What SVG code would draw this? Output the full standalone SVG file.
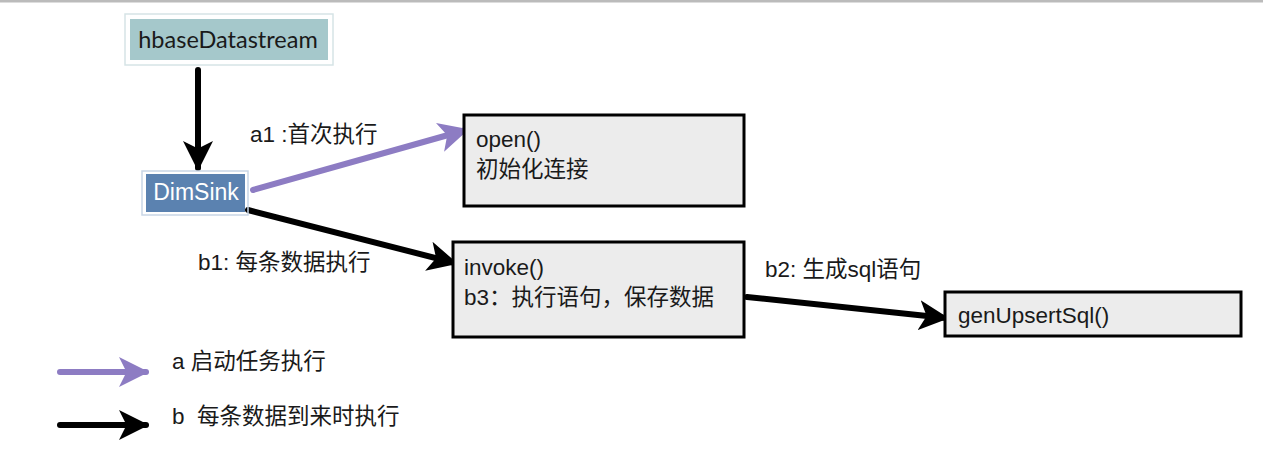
<svg xmlns="http://www.w3.org/2000/svg" width="1263" height="449" viewBox="0 0 1263 449">
<defs>
<style>
.lbl{font-family:"Liberation Sans","Noto Sans CJK SC",sans-serif;font-size:22.5px;fill:#1a1a1a}
.box{fill:#ececec;stroke:#000;stroke-width:3}
.blk{stroke:#000;stroke-width:6;stroke-linecap:round;fill:none}
.pur{stroke:#8d7cc3;stroke-width:6;stroke-linecap:round;fill:none}
</style>
<marker id="hb" viewBox="0 0 10 10" refX="9" refY="5" markerWidth="5" markerHeight="5" orient="auto" markerUnits="strokeWidth"><path d="M0,0 L10,5 L0,10 L2.5,5 Z" fill="#000"/></marker>
<marker id="hp" viewBox="0 0 10 10" refX="9" refY="5" markerWidth="5" markerHeight="5" orient="auto" markerUnits="strokeWidth"><path d="M0,0 L10,5 L0,10 L2.5,5 Z" fill="#8d7cc3"/></marker>
</defs>
<rect x="0" y="0" width="1263" height="449" fill="#fff"/>
<rect x="0" y="0" width="1263" height="2.5" fill="#bbbbbb"/>
<g id="connectors">
<line class="blk" x1="198" y1="70" x2="198" y2="168" marker-end="url(#hb)"/>
<line class="pur" x1="253" y1="190" x2="466" y2="130" marker-end="url(#hp)"/>
<line class="blk" x1="248" y1="210" x2="455" y2="263" marker-end="url(#hb)"/>
<line class="blk" x1="747" y1="297" x2="946" y2="318" marker-end="url(#hb)"/>
<text class="lbl" x="250" y="142">a1 :首次执行</text>
<text class="lbl" x="198" y="270">b1: 每条数据执行</text>
<text class="lbl" x="765" y="277">b2: 生成sql语句</text>
</g>
<g id="hbaseDatastream">
<rect x="125" y="14" width="208" height="51" fill="none" stroke="#d6e4e6" stroke-width="1.5"/>
<rect x="130" y="19" width="198" height="41" fill="#a5c8cb"/>
<text x="228" y="48" text-anchor="middle" font-family="Lato,'DejaVu Sans',sans-serif" font-size="23.5" fill="#1a1a1a">hbaseDatastream</text>
</g>
<g id="DimSink">
<rect x="142" y="171" width="106" height="44" fill="none" stroke="#c9d6e6" stroke-width="1.5"/>
<rect x="146" y="174" width="99" height="38" fill="#5b82b0"/>
<text x="196" y="200" text-anchor="middle" font-family="'Liberation Sans',sans-serif" font-size="23" fill="#fff">DimSink</text>
</g>
<g id="open">
<rect class="box" x="464" y="115" width="280" height="91"/>
<text class="lbl" x="476" y="147">open()</text>
<text class="lbl" x="476" y="177">初始化连接</text>
</g>
<g id="invoke">
<rect class="box" x="453" y="242" width="291" height="95"/>
<text class="lbl" x="464" y="275">invoke()</text>
<text class="lbl" x="464" y="305">b3：执行语句，保存数据</text>
</g>
<g id="genUpsertSql">
<rect class="box" x="945" y="292" width="296" height="44"/>
<text class="lbl" x="958" y="323">genUpsertSql()</text>
</g>
<g id="legend">
<line class="pur" x1="60" y1="372" x2="146" y2="372" marker-end="url(#hp)"/>
<line class="blk" x1="60" y1="425" x2="146" y2="425" marker-end="url(#hb)"/>
<text class="lbl" x="172" y="369">a 启动任务执行</text>
<text class="lbl" x="172" y="424" xml:space="preserve">b  每条数据到来时执行</text>
</g>
</svg>
